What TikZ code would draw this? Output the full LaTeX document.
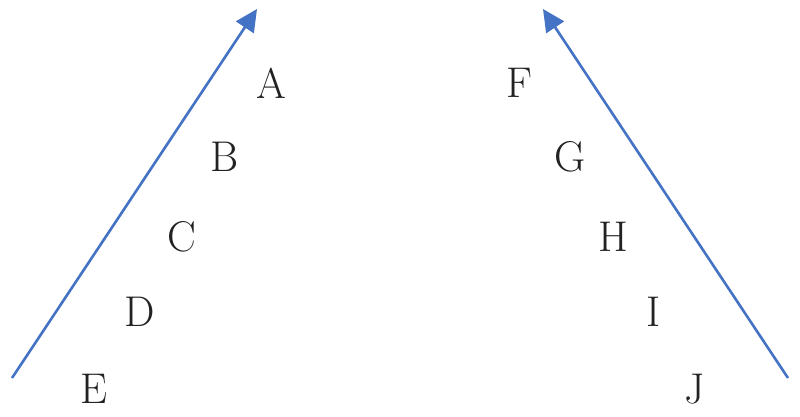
\documentclass[tikz,border=0pt]{standalone}
\usepackage{tikz}
\usetikzlibrary{arrows.meta, positioning}
\definecolor{ArrowColor}{RGB}{68,114,196}
\definecolor{LetterColor}{RGB}{34,34,34}
\tikzstyle{arrow} = [line width=2.6pt, ArrowColor, -{Triangle[length=22pt, width=21pt]}]
\tikzstyle{letter} = [LetterColor, inner sep=0pt, font=\fontsize{43}{50}\selectfont]

\begin{document}
\begin{tikzpicture}[x=1pt, y=-1pt]
            % Canvas
            \useasboundingbox (0,0) rectangle (800,416);
            % Arrow ends
            \coordinate (leftfoot) at (12,378);
            \coordinate (lefttip) at (257,9);
            \coordinate (rightfoot) at (788,378);
            \coordinate (righttip) at (543,9);
            \draw[arrow] (leftfoot) -- (lefttip);
            \draw[arrow] (rightfoot) -- (righttip);
            % Left letters
            \node[letter] (A) at (271,83) {A};
            \node[letter] (B) at (225,157) {B};
            \node[letter] (C) at (182,237) {C};
            \node[letter] (D) at (140,312) {D};
            \node[letter] (E) at (94,389) {E};
            % Right letters
            \node[letter] (F) at (519,83) {F};
            \node[letter] (G) at (570,157) {G};
            \node[letter] (H) at (613,237) {H};
            \node[letter] (I) at (654,312) {I};
            \node[letter] (J) at (695,389) {J};
        \end{tikzpicture}
\end{document}
